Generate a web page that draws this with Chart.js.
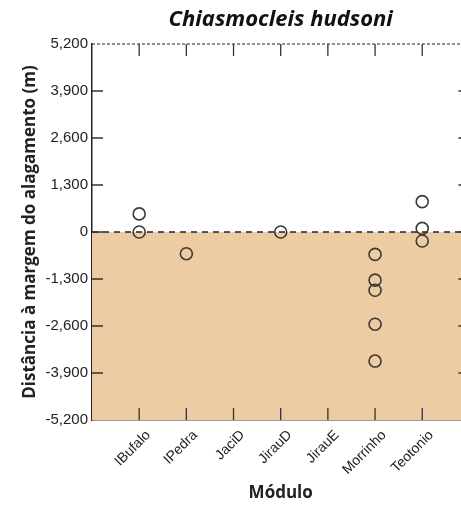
<!DOCTYPE html>
<html>
<head>
<meta charset="utf-8">
<script src="https://cdn.jsdelivr.net/npm/chart.js@4.4.0/dist/chart.umd.min.js"></script>
<style>
  body { margin: 0; background: #fff; overflow: hidden; }
  canvas { display: block; }
</style>
</head>
<body>
<canvas id="myChart" width="477" height="506"></canvas>
<script>
// módulos no eixo x
const modulos = ["IBufalo", "IPedra", "JaciD", "JirauD", "JirauE", "Morrinho", "Teotonio"];

// cada registro: módulo e distância (m)
const pontoModulo = ["IBufalo", "IBufalo", "IPedra", "JirauD",
  "Morrinho", "Morrinho", "Morrinho", "Morrinho", "Morrinho",
  "Teotonio", "Teotonio", "Teotonio"];
const distancia = [500, 0, -600, 0,
  -620, -1330, -1610, -2550, -3570,
  840, 100, -250];

const yTicks = [5200, 3900, 2600, 1300, 0, -1300, -2600, -3900, -5200];

const fontTick = "'Liberation Sans', Arial, sans-serif";
const fontTitle = "'Open Sans', 'Liberation Sans', sans-serif";

let points = [];
for (let i = 0; i < distancia.length; i++) {
  points.push({ x: modulos.indexOf(pontoModulo[i]), y: distancia[i] });
}

// fundo abaixo do zero, linha tracejada e ticks internos
const decor = {
  id: "decor",
  beforeDatasetsDraw(chart) {
    const ctx = chart.ctx;
    const a = chart.chartArea;
    const y = chart.scales.y;
    const y0 = y.getPixelForValue(0);
    const yMin = y.getPixelForValue(-5200);
    ctx.save();
    ctx.fillStyle = "#eecca3";
    ctx.fillRect(a.left, y0, a.right - a.left, yMin - y0);

    ctx.strokeStyle = "#222";
    ctx.lineWidth = 1.6;
    ctx.setLineDash([6, 5]);
    ctx.beginPath();
    ctx.moveTo(a.left, y0);
    ctx.lineTo(a.right, y0);
    ctx.stroke();

    // borda superior
    ctx.lineWidth = 1;
    ctx.setLineDash([3, 2]);
    ctx.beginPath();
    ctx.moveTo(a.left, a.top);
    ctx.lineTo(a.right, a.top);
    ctx.stroke();
    ctx.restore();
  },
  afterDraw(chart) {
    const ctx = chart.ctx;
    const a = chart.chartArea;
    const x = chart.scales.x;
    const y = chart.scales.y;
    ctx.save();
    ctx.strokeStyle = "#333";
    ctx.lineWidth = 1.3;
    ctx.beginPath();
    for (let i = 0; i < modulos.length; i++) {
      let px = x.getPixelForValue(i);
      ctx.moveTo(px, a.bottom);
      ctx.lineTo(px, a.bottom - 12);
      ctx.moveTo(px, a.top);
      ctx.lineTo(px, a.top + 12);
    }
    yTicks.forEach(function (v) {
      if (v == 5200 || v == -5200) return;
      let py = y.getPixelForValue(v);
      ctx.moveTo(a.left, py);
      ctx.lineTo(a.left + 11, py);
      ctx.moveTo(a.right, py);
      ctx.lineTo(a.right - 11, py);
    });
    ctx.stroke();
    ctx.restore();
  }
};

const config = {
  type: "scatter",
  data: {
    datasets: [{
      data: points,
      pointStyle: "circle",
      pointRadius: 6,
      pointHoverRadius: 6,
      borderWidth: 1.6,
      borderColor: "#3d3a36",
      backgroundColor: "rgba(0,0,0,0)"
    }]
  },
  options: {
    responsive: false,
    animation: false,
    layout: { padding: { top: 2, right: 2, left: 0, bottom: 0 } },
    plugins: {
      legend: { display: false },
      tooltip: { enabled: false },
      title: {
        display: true,
        fullSize: false,
        text: "Chiasmocleis hudsoni",
        color: "#111",
        font: { family: fontTitle, size: 22, weight: "bold", style: "italic" },
        padding: { top: 5, bottom: 10.6 }
      }
    },
    scales: {
      x: {
        type: "linear",
        min: -1,
        max: 7,
        afterBuildTicks: function (scale) {
          scale.ticks = modulos.map(function (m, i) { return { value: i }; });
        },
        afterFit: function (scale) {
          scale.height = 86;
          scale.paddingLeft = 0;
          scale.paddingRight = 0;
        },
        ticks: {
          autoSkip: false,
          minRotation: 45,
          maxRotation: 45,
          padding: 7,
          labelOffset: 9,
          color: "#222",
          font: { family: fontTick, size: 14 },
          callback: function (v) { return modulos[v] || ""; }
        },
        grid: { display: false, drawTicks: false },
        border: { display: true, color: "#333", width: 1.5 },
        title: {
          display: true,
          text: "Módulo",
          color: "#222",
          font: { family: fontTitle, size: 17, weight: "bold" },
          padding: { top: 3, bottom: 3 }
        }
      },
      y: {
        min: -5200,
        max: 5200,
        afterBuildTicks: function (scale) {
          scale.ticks = yTicks.map(function (v) { return { value: v }; });
        },
        afterFit: function (scale) { scale.width = 92; },
        ticks: {
          padding: 4,
          color: "#222",
          font: { family: fontTick, size: 15 },
          callback: function (v) { return v.toLocaleString("en-US"); }
        },
        grid: { display: false, drawTicks: false },
        border: { display: true, color: "#222", width: 1.5 },
        title: {
          display: true,
          text: "Distância à margem do alagamento (m)",
          color: "#222",
          font: { family: fontTitle, size: 17, weight: "bold" },
          padding: { top: 20, bottom: 0 }
        }
      }
    }
  },
  plugins: [decor]
};

const ctx = document.getElementById("myChart").getContext("2d");
let myChart = new Chart(ctx, config);
</script>
</body>
</html>
